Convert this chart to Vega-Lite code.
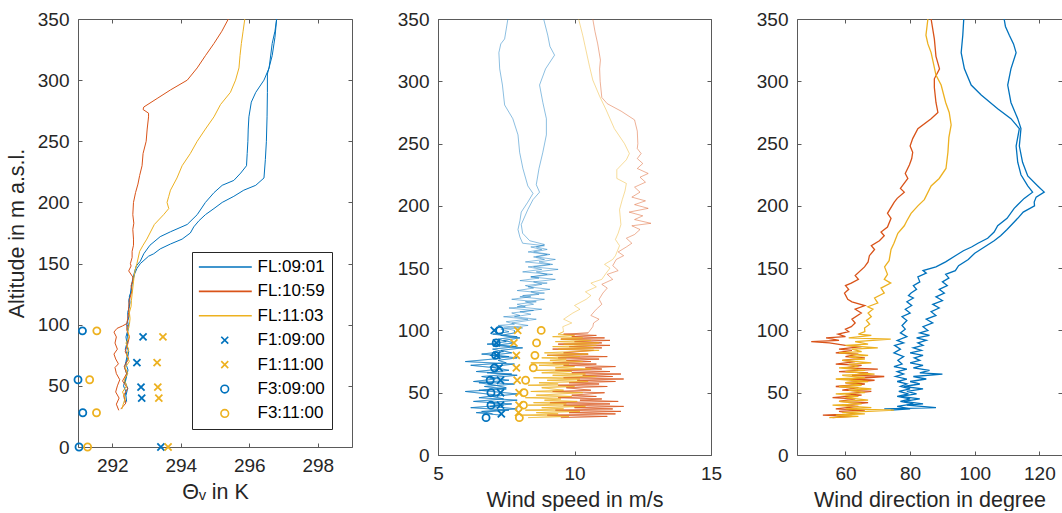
{
"$schema":"https://vega.github.io/schema/vega-lite/v6.json",
"padding":{"left":5,"top":9,"right":0,"bottom":0},
"background":"#ffffff",
"spacing":86,
"bounds":"flush",
"resolve":{"scale":{"color":"independent","shape":"independent","stroke":"independent"},"legend":{"color":"independent","shape":"independent","stroke":"independent"}},
"config":{
 "font":"Liberation Sans",
 "view":{"stroke":"#5a5a5a","strokeWidth":1},
 "axis":{"domain":false,"grid":false,"tickSize":-4,"tickColor":"#5a5a5a","tickWidth":1,"labelFont":"Liberation Sans","labelFontSize":19,"labelColor":"#262626","labelPadding":13,"titleFont":"Liberation Sans","titleFontSize":21.5,"titleFontWeight":"normal","titleColor":"#262626","labelFlush":false,"labelOverlap":false},
 "axisX":{"titlePadding":6},
 "axisY":{"titlePadding":9}
},
"datasets":{
"p1l":[
{"s":"FL:09:01","t":"b1","v":292.38,"a":36},{"s":"FL:09:01","t":"b1","v":292.35,"a":40},{"s":"FL:09:01","t":"b1","v":292.40,"a":45},{"s":"FL:09:01","t":"b1","v":292.33,"a":50},{"s":"FL:09:01","t":"b1","v":292.38,"a":55},{"s":"FL:09:01","t":"b1","v":292.42,"a":60},{"s":"FL:09:01","t":"b1","v":292.36,"a":65},{"s":"FL:09:01","t":"b1","v":292.40,"a":70},{"s":"FL:09:01","t":"b1","v":292.44,"a":75},{"s":"FL:09:01","t":"b1","v":292.38,"a":80},{"s":"FL:09:01","t":"b1","v":292.43,"a":85},{"s":"FL:09:01","t":"b1","v":292.40,"a":90},{"s":"FL:09:01","t":"b1","v":292.45,"a":95},{"s":"FL:09:01","t":"b1","v":292.42,"a":100},{"s":"FL:09:01","t":"b1","v":292.46,"a":105},{"s":"FL:09:01","t":"b1","v":292.45,"a":110},{"s":"FL:09:01","t":"b1","v":292.50,"a":115},{"s":"FL:09:01","t":"b1","v":292.48,"a":120},{"s":"FL:09:01","t":"b1","v":292.53,"a":125},{"s":"FL:09:01","t":"b1","v":292.55,"a":130},{"s":"FL:09:01","t":"b1","v":292.58,"a":135},{"s":"FL:09:01","t":"b1","v":292.62,"a":140},{"s":"FL:09:01","t":"b1","v":292.67,"a":145},{"s":"FL:09:01","t":"b1","v":292.70,"a":148},{"s":"FL:09:01","t":"b1","v":292.82,"a":152},{"s":"FL:09:01","t":"b1","v":292.92,"a":158},{"s":"FL:09:01","t":"b1","v":293.10,"a":165},{"s":"FL:09:01","t":"b1","v":293.40,"a":172},{"s":"FL:09:01","t":"b1","v":293.70,"a":176},{"s":"FL:09:01","t":"b1","v":294.19,"a":182},{"s":"FL:09:01","t":"b1","v":294.48,"a":190},{"s":"FL:09:01","t":"b1","v":294.72,"a":200},{"s":"FL:09:01","t":"b1","v":294.97,"a":208},{"s":"FL:09:01","t":"b1","v":295.21,"a":214},{"s":"FL:09:01","t":"b1","v":295.55,"a":218},{"s":"FL:09:01","t":"b1","v":295.75,"a":224},{"s":"FL:09:01","t":"b1","v":295.92,"a":230},{"s":"FL:09:01","t":"b1","v":295.94,"a":240},{"s":"FL:09:01","t":"b1","v":295.96,"a":250},{"s":"FL:09:01","t":"b1","v":295.97,"a":260},{"s":"FL:09:01","t":"b1","v":295.99,"a":270},{"s":"FL:09:01","t":"b1","v":296.06,"a":282},{"s":"FL:09:01","t":"b1","v":296.19,"a":290},{"s":"FL:09:01","t":"b1","v":296.43,"a":300},{"s":"FL:09:01","t":"b1","v":296.58,"a":310},{"s":"FL:09:01","t":"b1","v":296.67,"a":330},{"s":"FL:09:01","t":"b1","v":296.75,"a":340},{"s":"FL:09:01","t":"b1","v":296.80,"a":350},
{"s":"FL:09:01","t":"b2","v":292.42,"a":37},{"s":"FL:09:01","t":"b2","v":292.40,"a":42},{"s":"FL:09:01","t":"b2","v":292.45,"a":48},{"s":"FL:09:01","t":"b2","v":292.38,"a":53},{"s":"FL:09:01","t":"b2","v":292.42,"a":58},{"s":"FL:09:01","t":"b2","v":292.46,"a":63},{"s":"FL:09:01","t":"b2","v":292.40,"a":68},{"s":"FL:09:01","t":"b2","v":292.45,"a":73},{"s":"FL:09:01","t":"b2","v":292.48,"a":78},{"s":"FL:09:01","t":"b2","v":292.42,"a":83},{"s":"FL:09:01","t":"b2","v":292.46,"a":88},{"s":"FL:09:01","t":"b2","v":292.44,"a":93},{"s":"FL:09:01","t":"b2","v":292.48,"a":98},{"s":"FL:09:01","t":"b2","v":292.45,"a":103},{"s":"FL:09:01","t":"b2","v":292.50,"a":108},{"s":"FL:09:01","t":"b2","v":292.48,"a":113},{"s":"FL:09:01","t":"b2","v":292.52,"a":118},{"s":"FL:09:01","t":"b2","v":292.50,"a":123},{"s":"FL:09:01","t":"b2","v":292.56,"a":128},{"s":"FL:09:01","t":"b2","v":292.58,"a":133},{"s":"FL:09:01","t":"b2","v":292.62,"a":138},{"s":"FL:09:01","t":"b2","v":292.66,"a":142},{"s":"FL:09:01","t":"b2","v":292.72,"a":146},{"s":"FL:09:01","t":"b2","v":292.82,"a":150},{"s":"FL:09:01","t":"b2","v":293.06,"a":156},{"s":"FL:09:01","t":"b2","v":293.21,"a":158},{"s":"FL:09:01","t":"b2","v":293.40,"a":162},{"s":"FL:09:01","t":"b2","v":293.70,"a":166},{"s":"FL:09:01","t":"b2","v":294.04,"a":170},{"s":"FL:09:01","t":"b2","v":294.28,"a":175},{"s":"FL:09:01","t":"b2","v":294.38,"a":180},{"s":"FL:09:01","t":"b2","v":294.53,"a":185},{"s":"FL:09:01","t":"b2","v":294.72,"a":190},{"s":"FL:09:01","t":"b2","v":294.97,"a":195},{"s":"FL:09:01","t":"b2","v":295.21,"a":200},{"s":"FL:09:01","t":"b2","v":295.55,"a":205},{"s":"FL:09:01","t":"b2","v":295.84,"a":210},{"s":"FL:09:01","t":"b2","v":296.19,"a":214},{"s":"FL:09:01","t":"b2","v":296.43,"a":220},{"s":"FL:09:01","t":"b2","v":296.47,"a":235},{"s":"FL:09:01","t":"b2","v":296.50,"a":250},{"s":"FL:09:01","t":"b2","v":296.52,"a":270},{"s":"FL:09:01","t":"b2","v":296.53,"a":290},{"s":"FL:09:01","t":"b2","v":296.53,"a":305},{"s":"FL:09:01","t":"b2","v":296.67,"a":320},{"s":"FL:09:01","t":"b2","v":296.75,"a":335},{"s":"FL:09:01","t":"b2","v":296.80,"a":350},
{"s":"FL:10:59","t":"r1","v":292.19,"a":30},{"s":"FL:10:59","t":"r1","v":292.12,"a":35},{"s":"FL:10:59","t":"r1","v":292.20,"a":40},{"s":"FL:10:59","t":"r1","v":292.10,"a":45},{"s":"FL:10:59","t":"r1","v":292.15,"a":50},{"s":"FL:10:59","t":"r1","v":292.22,"a":55},{"s":"FL:10:59","t":"r1","v":292.12,"a":60},{"s":"FL:10:59","t":"r1","v":292.08,"a":65},{"s":"FL:10:59","t":"r1","v":292.18,"a":68},{"s":"FL:10:59","t":"r1","v":292.10,"a":72},{"s":"FL:10:59","t":"r1","v":292.05,"a":76},{"s":"FL:10:59","t":"r1","v":292.15,"a":80},{"s":"FL:10:59","t":"r1","v":292.08,"a":85},{"s":"FL:10:59","t":"r1","v":292.12,"a":90},{"s":"FL:10:59","t":"r1","v":292.05,"a":94},{"s":"FL:10:59","t":"r1","v":292.14,"a":97},{"s":"FL:10:59","t":"r1","v":292.30,"a":99},{"s":"FL:10:59","t":"r1","v":292.43,"a":101},{"s":"FL:10:59","t":"r1","v":292.45,"a":105},{"s":"FL:10:59","t":"r1","v":292.48,"a":110},{"s":"FL:10:59","t":"r1","v":292.48,"a":115},{"s":"FL:10:59","t":"r1","v":292.50,"a":120},{"s":"FL:10:59","t":"r1","v":292.55,"a":125},{"s":"FL:10:59","t":"r1","v":292.58,"a":128},{"s":"FL:10:59","t":"r1","v":292.55,"a":132},{"s":"FL:10:59","t":"r1","v":292.60,"a":136},{"s":"FL:10:59","t":"r1","v":292.60,"a":139},{"s":"FL:10:59","t":"r1","v":292.48,"a":144},{"s":"FL:10:59","t":"r1","v":292.55,"a":148},{"s":"FL:10:59","t":"r1","v":292.53,"a":150},{"s":"FL:10:59","t":"r1","v":292.58,"a":155},{"s":"FL:10:59","t":"r1","v":292.58,"a":160},{"s":"FL:10:59","t":"r1","v":292.62,"a":165},{"s":"FL:10:59","t":"r1","v":292.62,"a":170},{"s":"FL:10:59","t":"r1","v":292.60,"a":178},{"s":"FL:10:59","t":"r1","v":292.63,"a":183},{"s":"FL:10:59","t":"r1","v":292.60,"a":190},{"s":"FL:10:59","t":"r1","v":292.62,"a":200},{"s":"FL:10:59","t":"r1","v":292.68,"a":208},{"s":"FL:10:59","t":"r1","v":292.75,"a":215},{"s":"FL:10:59","t":"r1","v":292.80,"a":222},{"s":"FL:10:59","t":"r1","v":292.87,"a":230},{"s":"FL:10:59","t":"r1","v":292.90,"a":240},{"s":"FL:10:59","t":"r1","v":292.99,"a":250},{"s":"FL:10:59","t":"r1","v":293.02,"a":260},{"s":"FL:10:59","t":"r1","v":293.06,"a":270},{"s":"FL:10:59","t":"r1","v":293.06,"a":273},{"s":"FL:10:59","t":"r1","v":292.90,"a":276},{"s":"FL:10:59","t":"r1","v":292.92,"a":278},{"s":"FL:10:59","t":"r1","v":293.31,"a":285},{"s":"FL:10:59","t":"r1","v":293.70,"a":292},{"s":"FL:10:59","t":"r1","v":294.19,"a":300},{"s":"FL:10:59","t":"r1","v":294.48,"a":310},{"s":"FL:10:59","t":"r1","v":294.72,"a":320},{"s":"FL:10:59","t":"r1","v":294.97,"a":330},{"s":"FL:10:59","t":"r1","v":295.20,"a":340},{"s":"FL:10:59","t":"r1","v":295.39,"a":350},
{"s":"FL:10:59","t":"r2","v":292.25,"a":31},{"s":"FL:10:59","t":"r2","v":292.40,"a":36},{"s":"FL:10:59","t":"r2","v":292.33,"a":42},{"s":"FL:10:59","t":"r2","v":292.45,"a":48},{"s":"FL:10:59","t":"r2","v":292.30,"a":54},{"s":"FL:10:59","t":"r2","v":292.42,"a":60},{"s":"FL:10:59","t":"r2","v":292.35,"a":66},{"s":"FL:10:59","t":"r2","v":292.48,"a":72},{"s":"FL:10:59","t":"r2","v":292.38,"a":78},{"s":"FL:10:59","t":"r2","v":292.45,"a":84},{"s":"FL:10:59","t":"r2","v":292.50,"a":90},{"s":"FL:10:59","t":"r2","v":292.42,"a":96},{"s":"FL:10:59","t":"r2","v":292.45,"a":100},
{"s":"FL:11:03","t":"y1","v":292.28,"a":31},{"s":"FL:11:03","t":"y1","v":292.32,"a":35},{"s":"FL:11:03","t":"y1","v":292.38,"a":40},{"s":"FL:11:03","t":"y1","v":292.30,"a":45},{"s":"FL:11:03","t":"y1","v":292.42,"a":50},{"s":"FL:11:03","t":"y1","v":292.35,"a":55},{"s":"FL:11:03","t":"y1","v":292.45,"a":60},{"s":"FL:11:03","t":"y1","v":292.38,"a":65},{"s":"FL:11:03","t":"y1","v":292.50,"a":70},{"s":"FL:11:03","t":"y1","v":292.42,"a":75},{"s":"FL:11:03","t":"y1","v":292.48,"a":80},{"s":"FL:11:03","t":"y1","v":292.40,"a":85},{"s":"FL:11:03","t":"y1","v":292.50,"a":90},{"s":"FL:11:03","t":"y1","v":292.45,"a":95},{"s":"FL:11:03","t":"y1","v":292.50,"a":100},{"s":"FL:11:03","t":"y1","v":292.52,"a":105},{"s":"FL:11:03","t":"y1","v":292.50,"a":110},{"s":"FL:11:03","t":"y1","v":292.55,"a":115},{"s":"FL:11:03","t":"y1","v":292.56,"a":120},{"s":"FL:11:03","t":"y1","v":292.58,"a":125},{"s":"FL:11:03","t":"y1","v":292.60,"a":130},{"s":"FL:11:03","t":"y1","v":292.62,"a":135},{"s":"FL:11:03","t":"y1","v":292.64,"a":140},{"s":"FL:11:03","t":"y1","v":292.67,"a":145},{"s":"FL:11:03","t":"y1","v":292.72,"a":150},{"s":"FL:11:03","t":"y1","v":292.80,"a":160},{"s":"FL:11:03","t":"y1","v":292.90,"a":165},{"s":"FL:11:03","t":"y1","v":293.01,"a":170},{"s":"FL:11:03","t":"y1","v":293.23,"a":182},{"s":"FL:11:03","t":"y1","v":293.50,"a":190},{"s":"FL:11:03","t":"y1","v":293.65,"a":195},{"s":"FL:11:03","t":"y1","v":293.60,"a":200},{"s":"FL:11:03","t":"y1","v":293.65,"a":205},{"s":"FL:11:03","t":"y1","v":293.70,"a":210},{"s":"FL:11:03","t":"y1","v":293.89,"a":220},{"s":"FL:11:03","t":"y1","v":294.04,"a":230},{"s":"FL:11:03","t":"y1","v":294.28,"a":240},{"s":"FL:11:03","t":"y1","v":294.48,"a":250},{"s":"FL:11:03","t":"y1","v":294.72,"a":260},{"s":"FL:11:03","t":"y1","v":294.97,"a":270},{"s":"FL:11:03","t":"y1","v":295.16,"a":280},{"s":"FL:11:03","t":"y1","v":295.45,"a":290},{"s":"FL:11:03","t":"y1","v":295.60,"a":300},{"s":"FL:11:03","t":"y1","v":295.70,"a":310},{"s":"FL:11:03","t":"y1","v":295.73,"a":320},{"s":"FL:11:03","t":"y1","v":295.77,"a":330},{"s":"FL:11:03","t":"y1","v":295.82,"a":340},{"s":"FL:11:03","t":"y1","v":295.87,"a":350}
],
"p1m":[
{"s":"F1:09:00","v":292.9,"a":90},{"s":"F1:09:00","v":292.72,"a":69},{"s":"F1:09:00","v":292.84,"a":49},{"s":"F1:09:00","v":292.86,"a":40},{"s":"F1:09:00","v":293.42,"a":0},
{"s":"F1:11:00","v":293.48,"a":90},{"s":"F1:11:00","v":293.31,"a":69},{"s":"F1:11:00","v":293.33,"a":49},{"s":"F1:11:00","v":293.36,"a":40},{"s":"F1:11:00","v":293.63,"a":0},
{"s":"F3:09:00","v":291.13,"a":95},{"s":"F3:09:00","v":291.0,"a":55},{"s":"F3:09:00","v":291.14,"a":28},{"s":"F3:09:00","v":291.03,"a":0},
{"s":"F3:11:00","v":291.55,"a":95},{"s":"F3:11:00","v":291.34,"a":55},{"s":"F3:11:00","v":291.54,"a":28},{"s":"F3:11:00","v":291.28,"a":0}
],
"p2m":[
{"s":"F3:09:00","v":7.26,"a":100},{"s":"F3:09:00","v":7.13,"a":90},{"s":"F3:09:00","v":7.11,"a":80},{"s":"F3:09:00","v":7.07,"a":70},{"s":"F3:09:00","v":6.91,"a":60},{"s":"F3:09:00","v":6.94,"a":50},{"s":"F3:09:00","v":6.94,"a":40},{"s":"F3:09:00","v":6.76,"a":30},
{"s":"F1:09:00","v":7.06,"a":100},{"s":"F1:09:00","v":7.14,"a":90},{"s":"F1:09:00","v":7.15,"a":80},{"s":"F1:09:00","v":7.24,"a":70},{"s":"F1:09:00","v":7.29,"a":60},{"s":"F1:09:00","v":7.29,"a":50},{"s":"F1:09:00","v":7.29,"a":40},{"s":"F1:09:00","v":7.32,"a":33},
{"s":"F1:11:00","v":7.92,"a":100},{"s":"F1:11:00","v":7.78,"a":90},{"s":"F1:11:00","v":7.87,"a":80},{"s":"F1:11:00","v":7.87,"a":70},{"s":"F1:11:00","v":7.9,"a":60},{"s":"F1:11:00","v":7.97,"a":50},{"s":"F1:11:00","v":7.97,"a":40},{"s":"F1:11:00","v":7.95,"a":34},
{"s":"F3:11:00","v":8.78,"a":100},{"s":"F3:11:00","v":8.61,"a":90},{"s":"F3:11:00","v":8.55,"a":80},{"s":"F3:11:00","v":8.49,"a":70},{"s":"F3:11:00","v":8.21,"a":60},{"s":"F3:11:00","v":8.15,"a":50},{"s":"F3:11:00","v":8.13,"a":40},{"s":"F3:11:00","v":7.98,"a":30}
],
"p2l":[
{"t":"b1","v":7.3,"a":32},{"t":"b1","v":6.4,"a":34},{"t":"b1","v":7.6,"a":36},{"t":"b1","v":6.2,"a":38},{"t":"b1","v":7.4,"a":40},{"t":"b1","v":6.8,"a":42},{"t":"b1","v":7.9,"a":44},{"t":"b1","v":6.5,"a":46},{"t":"b1","v":7.2,"a":48},{"t":"b1","v":6.0,"a":51},{"t":"b1","v":7.5,"a":53},{"t":"b1","v":6.7,"a":55},{"t":"b1","v":7.8,"a":57},{"t":"b1","v":6.3,"a":59},{"t":"b1","v":7.1,"a":61},{"t":"b1","v":6.6,"a":63},{"t":"b1","v":7.7,"a":65},{"t":"b1","v":6.4,"a":67},{"t":"b1","v":7.3,"a":69},{"t":"b1","v":6.9,"a":71},{"t":"b1","v":7.8,"a":73},{"t":"b1","v":6.0,"a":75},{"t":"b1","v":7.0,"a":77},{"t":"b1","v":7.6,"a":79},{"t":"b1","v":6.6,"a":81},{"t":"b1","v":7.4,"a":83},{"t":"b1","v":7.0,"a":85},{"t":"b1","v":7.9,"a":87},{"t":"b1","v":6.8,"a":89},{"t":"b1","v":7.5,"a":91},{"t":"b1","v":7.2,"a":93},{"t":"b1","v":7.9,"a":95},{"t":"b1","v":7.0,"a":97},{"t":"b1","v":7.6,"a":99},
{"t":"b1","v":7.3,"a":101},{"t":"b1","v":8.1,"a":102},{"t":"b1","v":7.2,"a":104},{"t":"b1","v":7.8,"a":105},{"t":"b1","v":7.5,"a":107},{"t":"b1","v":8.3,"a":109},{"t":"b1","v":7.4,"a":111},{"t":"b1","v":8.0,"a":112},{"t":"b1","v":7.7,"a":114},{"t":"b1","v":8.5,"a":116},{"t":"b1","v":7.6,"a":118},{"t":"b1","v":8.2,"a":119},{"t":"b1","v":7.9,"a":121},{"t":"b1","v":8.6,"a":123},{"t":"b1","v":7.7,"a":125},{"t":"b1","v":8.4,"a":127},{"t":"b1","v":8.1,"a":128},{"t":"b1","v":8.9,"a":130},{"t":"b1","v":7.9,"a":132},{"t":"b1","v":8.5,"a":134},{"t":"b1","v":8.2,"a":136},{"t":"b1","v":9.0,"a":138},{"t":"b1","v":8.0,"a":140},{"t":"b1","v":8.7,"a":142},{"t":"b1","v":8.4,"a":143},{"t":"b1","v":9.2,"a":145},{"t":"b1","v":8.1,"a":147},{"t":"b1","v":8.8,"a":149},{"t":"b1","v":8.3,"a":151},{"t":"b1","v":9.1,"a":153},{"t":"b1","v":8.2,"a":155},{"t":"b1","v":8.9,"a":157},{"t":"b1","v":8.5,"a":159},{"t":"b1","v":9.0,"a":161},{"t":"b1","v":8.3,"a":163},{"t":"b1","v":8.8,"a":165},{"t":"b1","v":8.4,"a":167},{"t":"b1","v":8.9,"a":168},{"t":"b1","v":8.1,"a":170},
{"t":"b1","v":8.0,"a":175},{"t":"b1","v":7.93,"a":181},{"t":"b1","v":8.0,"a":188},{"t":"b1","v":8.05,"a":195},{"t":"b1","v":8.29,"a":203},{"t":"b1","v":8.48,"a":210},{"t":"b1","v":8.29,"a":216},{"t":"b1","v":8.11,"a":230},{"t":"b1","v":7.99,"a":243},{"t":"b1","v":7.93,"a":257},{"t":"b1","v":7.74,"a":270},{"t":"b1","v":7.44,"a":281},{"t":"b1","v":7.36,"a":297},{"t":"b1","v":7.26,"a":310},{"t":"b1","v":7.23,"a":323},{"t":"b1","v":7.3,"a":330},{"t":"b1","v":7.44,"a":334},{"t":"b1","v":7.5,"a":342},{"t":"b1","v":7.56,"a":350},
{"t":"b2","v":7.0,"a":33},{"t":"b2","v":6.6,"a":35},{"t":"b2","v":7.9,"a":37},{"t":"b2","v":6.9,"a":39},{"t":"b2","v":7.7,"a":41},{"t":"b2","v":6.3,"a":43},{"t":"b2","v":7.4,"a":45},{"t":"b2","v":7.0,"a":47},{"t":"b2","v":7.9,"a":49},{"t":"b2","v":6.5,"a":52},{"t":"b2","v":7.5,"a":54},{"t":"b2","v":7.1,"a":56},{"t":"b2","v":6.5,"a":58},{"t":"b2","v":7.6,"a":60},{"t":"b2","v":6.9,"a":62},{"t":"b2","v":7.9,"a":64},{"t":"b2","v":6.8,"a":66},{"t":"b2","v":7.6,"a":68},{"t":"b2","v":7.1,"a":70},{"t":"b2","v":6.2,"a":72},{"t":"b2","v":7.5,"a":74},{"t":"b2","v":7.2,"a":76},{"t":"b2","v":7.9,"a":78},{"t":"b2","v":6.9,"a":80},{"t":"b2","v":7.7,"a":82},{"t":"b2","v":7.3,"a":84},{"t":"b2","v":8.1,"a":86},{"t":"b2","v":7.1,"a":88},{"t":"b2","v":7.8,"a":90},{"t":"b2","v":7.4,"a":92},{"t":"b2","v":8.0,"a":94},{"t":"b2","v":7.3,"a":96},{"t":"b2","v":7.8,"a":98},
{"t":"b2","v":7.8,"a":100},{"t":"b2","v":7.4,"a":102},{"t":"b2","v":8.3,"a":104},{"t":"b2","v":7.7,"a":106},{"t":"b2","v":8.0,"a":107},{"t":"b2","v":8.6,"a":109},{"t":"b2","v":7.8,"a":111},{"t":"b2","v":8.4,"a":113},{"t":"b2","v":8.0,"a":115},{"t":"b2","v":8.8,"a":117},{"t":"b2","v":7.9,"a":119},{"t":"b2","v":8.5,"a":121},{"t":"b2","v":8.2,"a":123},{"t":"b2","v":8.9,"a":125},{"t":"b2","v":8.0,"a":127},{"t":"b2","v":8.7,"a":129},{"t":"b2","v":8.4,"a":131},{"t":"b2","v":9.1,"a":133},{"t":"b2","v":8.3,"a":135},{"t":"b2","v":8.8,"a":137},{"t":"b2","v":8.5,"a":139},{"t":"b2","v":9.3,"a":141},{"t":"b2","v":8.4,"a":143},{"t":"b2","v":9.0,"a":145},{"t":"b2","v":8.6,"a":147},{"t":"b2","v":9.4,"a":149},{"t":"b2","v":8.5,"a":151},{"t":"b2","v":9.2,"a":153},{"t":"b2","v":8.7,"a":155},{"t":"b2","v":9.3,"a":157},{"t":"b2","v":8.6,"a":159},{"t":"b2","v":9.1,"a":161},{"t":"b2","v":8.5,"a":163},{"t":"b2","v":9.0,"a":165},{"t":"b2","v":8.6,"a":167},{"t":"b2","v":8.9,"a":169},
{"t":"b2","v":8.36,"a":172},{"t":"b2","v":8.1,"a":178},{"t":"b2","v":8.05,"a":185},{"t":"b2","v":8.29,"a":197},{"t":"b2","v":8.48,"a":205},{"t":"b2","v":8.72,"a":211},{"t":"b2","v":8.6,"a":217},{"t":"b2","v":8.7,"a":230},{"t":"b2","v":8.84,"a":243},{"t":"b2","v":8.97,"a":257},{"t":"b2","v":8.97,"a":270},{"t":"b2","v":8.84,"a":283},{"t":"b2","v":8.72,"a":297},{"t":"b2","v":8.94,"a":310},{"t":"b2","v":9.27,"a":321},{"t":"b2","v":9.1,"a":328},{"t":"b2","v":9.02,"a":337},{"t":"b2","v":8.87,"a":350},
{"t":"r","v":9.5,"a":30},{"t":"r","v":11.2,"a":31},{"t":"r","v":9.0,"a":32},{"t":"r","v":11.5,"a":33},{"t":"r","v":9.8,"a":34},{"t":"r","v":11.7,"a":35},{"t":"r","v":9.3,"a":36},{"t":"r","v":11.4,"a":37},{"t":"r","v":10.0,"a":38},{"t":"r","v":11.8,"a":39},{"t":"r","v":9.6,"a":40},{"t":"r","v":11.3,"a":41},{"t":"r","v":9.1,"a":42},{"t":"r","v":11.6,"a":43},{"t":"r","v":10.2,"a":44},{"t":"r","v":11.0,"a":45},{"t":"r","v":9.4,"a":46},{"t":"r","v":10.8,"a":47},{"t":"r","v":9.9,"a":48},{"t":"r","v":11.1,"a":50},{"t":"r","v":9.2,"a":51},{"t":"r","v":10.6,"a":52},{"t":"r","v":9.7,"a":54},{"t":"r","v":11.2,"a":55},{"t":"r","v":9.4,"a":56},{"t":"r","v":10.9,"a":57},{"t":"r","v":9.8,"a":58},{"t":"r","v":11.5,"a":59},{"t":"r","v":10.1,"a":60},{"t":"r","v":11.8,"a":61},{"t":"r","v":9.6,"a":62},{"t":"r","v":11.4,"a":63},{"t":"r","v":10.3,"a":64},{"t":"r","v":11.7,"a":65},{"t":"r","v":9.9,"a":66},{"t":"r","v":11.3,"a":67},{"t":"r","v":9.3,"a":68},{"t":"r","v":11.0,"a":69},{"t":"r","v":10.4,"a":70},{"t":"r","v":11.5,"a":71},{"t":"r","v":9.6,"a":72},{"t":"r","v":10.8,"a":73},{"t":"r","v":9.2,"a":74},{"t":"r","v":10.6,"a":75},{"t":"r","v":9.7,"a":76},{"t":"r","v":10.9,"a":77},{"t":"r","v":9.4,"a":78},{"t":"r","v":11.2,"a":79},{"t":"r","v":9.0,"a":80},{"t":"r","v":10.5,"a":81},{"t":"r","v":9.6,"a":82},{"t":"r","v":10.7,"a":84},{"t":"r","v":9.2,"a":85},{"t":"r","v":11.0,"a":86},{"t":"r","v":9.8,"a":87},{"t":"r","v":11.3,"a":88},{"t":"r","v":9.4,"a":89},{"t":"r","v":11.0,"a":90},{"t":"r","v":10.0,"a":91},{"t":"r","v":11.3,"a":92},{"t":"r","v":9.5,"a":93},{"t":"r","v":11.1,"a":94},{"t":"r","v":9.9,"a":95},{"t":"r","v":10.8,"a":96},{"t":"r","v":9.6,"a":97},{"t":"r","v":10.5,"a":98},{"t":"r","v":10.67,"a":103},{"t":"r","v":10.7,"a":106},{"t":"r","v":10.9,"a":109},{"t":"r","v":10.6,"a":112},{"t":"r","v":10.8,"a":117},{"t":"r","v":11.0,"a":121},{"t":"r","v":10.9,"a":125},{"t":"r","v":11.04,"a":130},{"t":"r","v":11.2,"a":134},{"t":"r","v":11.0,"a":137},{"t":"r","v":11.4,"a":141},{"t":"r","v":11.2,"a":145},{"t":"r","v":11.6,"a":148},{"t":"r","v":11.4,"a":152},{"t":"r","v":11.53,"a":157},{"t":"r","v":11.8,"a":160},{"t":"r","v":11.6,"a":163},{"t":"r","v":11.9,"a":167},{"t":"r","v":12.1,"a":170},{"t":"r","v":11.9,"a":174},{"t":"r","v":12.2,"a":177},{"t":"r","v":12.4,"a":181},{"t":"r","v":12.1,"a":184},{"t":"r","v":12.8,"a":186},{"t":"r","v":12.2,"a":189},{"t":"r","v":12.5,"a":192},{"t":"r","v":12.0,"a":195},{"t":"r","v":12.7,"a":198},{"t":"r","v":12.2,"a":201},{"t":"r","v":12.6,"a":204},{"t":"r","v":12.1,"a":207},{"t":"r","v":12.4,"a":211},{"t":"r","v":12.2,"a":215},{"t":"r","v":12.6,"a":219},{"t":"r","v":12.4,"a":223},{"t":"r","v":12.7,"a":226},{"t":"r","v":12.3,"a":230},{"t":"r","v":12.5,"a":234},{"t":"r","v":12.3,"a":238},{"t":"r","v":12.44,"a":242},{"t":"r","v":12.3,"a":246},{"t":"r","v":12.32,"a":250},{"t":"r","v":12.3,"a":260},{"t":"r","v":12.2,"a":269},{"t":"r","v":11.71,"a":276},{"t":"r","v":11.2,"a":282},{"t":"r","v":11.0,"a":287},{"t":"r","v":10.94,"a":300},{"t":"r","v":10.92,"a":310},{"t":"r","v":10.95,"a":317},{"t":"r","v":10.85,"a":330},{"t":"r","v":10.75,"a":340},{"t":"r","v":10.67,"a":350},
{"t":"y","v":8.3,"a":30},{"t":"y","v":9.8,"a":31},{"t":"y","v":8.1,"a":32},{"t":"y","v":9.4,"a":33},{"t":"y","v":8.6,"a":34},{"t":"y","v":10.2,"a":35},{"t":"y","v":8.2,"a":36},{"t":"y","v":9.6,"a":37},{"t":"y","v":8.8,"a":38},{"t":"y","v":10.4,"a":39},{"t":"y","v":8.3,"a":40},{"t":"y","v":9.7,"a":41},{"t":"y","v":8.5,"a":42},{"t":"y","v":10.1,"a":43},{"t":"y","v":8.9,"a":44},{"t":"y","v":9.5,"a":45},{"t":"y","v":8.2,"a":46},{"t":"y","v":9.9,"a":47},{"t":"y","v":8.6,"a":48},{"t":"y","v":10.3,"a":50},{"t":"y","v":8.4,"a":51},{"t":"y","v":9.6,"a":52},{"t":"y","v":8.8,"a":54},{"t":"y","v":10.0,"a":55},{"t":"y","v":8.3,"a":56},{"t":"y","v":9.4,"a":57},{"t":"y","v":8.7,"a":58},{"t":"y","v":10.5,"a":59},{"t":"y","v":9.0,"a":60},{"t":"y","v":10.2,"a":61},{"t":"y","v":8.5,"a":62},{"t":"y","v":10.8,"a":63},{"t":"y","v":9.2,"a":64},{"t":"y","v":10.4,"a":65},{"t":"y","v":8.8,"a":66},{"t":"y","v":9.9,"a":67},{"t":"y","v":8.6,"a":68},{"t":"y","v":10.6,"a":69},{"t":"y","v":9.3,"a":70},{"t":"y","v":10.0,"a":71},{"t":"y","v":8.7,"a":72},{"t":"y","v":9.8,"a":73},{"t":"y","v":8.4,"a":74},{"t":"y","v":10.3,"a":75},{"t":"y","v":9.1,"a":76},{"t":"y","v":9.7,"a":77},{"t":"y","v":8.8,"a":78},{"t":"y","v":10.2,"a":79},{"t":"y","v":9.0,"a":80},{"t":"y","v":10.5,"a":81},{"t":"y","v":8.9,"a":82},{"t":"y","v":10.9,"a":84},{"t":"y","v":9.4,"a":85},{"t":"y","v":10.7,"a":86},{"t":"y","v":9.2,"a":87},{"t":"y","v":10.8,"a":88},{"t":"y","v":9.6,"a":89},{"t":"y","v":10.9,"a":90},{"t":"y","v":9.3,"a":91},{"t":"y","v":10.6,"a":92},{"t":"y","v":9.5,"a":93},{"t":"y","v":10.3,"a":94},{"t":"y","v":9.2,"a":95},{"t":"y","v":10.0,"a":96},{"t":"y","v":9.4,"a":97},{"t":"y","v":9.6,"a":99},{"t":"y","v":9.57,"a":103},{"t":"y","v":9.9,"a":106},{"t":"y","v":9.6,"a":109},{"t":"y","v":9.94,"a":114},{"t":"y","v":10.2,"a":117},{"t":"y","v":10.0,"a":120},{"t":"y","v":10.43,"a":125},{"t":"y","v":10.6,"a":128},{"t":"y","v":10.4,"a":131},{"t":"y","v":10.8,"a":135},{"t":"y","v":10.6,"a":138},{"t":"y","v":11.0,"a":141},{"t":"y","v":11.16,"a":146},{"t":"y","v":11.3,"a":150},{"t":"y","v":11.1,"a":153},{"t":"y","v":11.4,"a":157},{"t":"y","v":11.5,"a":160},{"t":"y","v":11.65,"a":168},{"t":"y","v":11.5,"a":173},{"t":"y","v":11.6,"a":178},{"t":"y","v":11.7,"a":185},{"t":"y","v":11.65,"a":197},{"t":"y","v":11.75,"a":205},{"t":"y","v":11.85,"a":212},{"t":"y","v":11.9,"a":218},{"t":"y","v":11.55,"a":222},{"t":"y","v":11.55,"a":229},{"t":"y","v":11.9,"a":237},{"t":"y","v":12.01,"a":242},{"t":"y","v":11.83,"a":250},{"t":"y","v":11.46,"a":262},{"t":"y","v":11.16,"a":277},{"t":"y","v":10.92,"a":288},{"t":"y","v":10.67,"a":301},{"t":"y","v":10.55,"a":312},{"t":"y","v":10.42,"a":325},{"t":"y","v":10.3,"a":337},{"t":"y","v":10.15,"a":350}
],
"p3l":[
{"t":"b1","v":72,"a":37},{"t":"b1","v":88,"a":38},{"t":"b1","v":79,"a":40},{"t":"b1","v":84,"a":41},{"t":"b1","v":78,"a":43},{"t":"b1","v":83,"a":45},{"t":"b1","v":77,"a":47},{"t":"b1","v":82,"a":49},{"t":"b1","v":79,"a":51},{"t":"b1","v":84,"a":53},{"t":"b1","v":78,"a":55},{"t":"b1","v":83,"a":57},{"t":"b1","v":80,"a":59},{"t":"b1","v":85,"a":61},{"t":"b1","v":81,"a":63},{"t":"b1","v":90,"a":65},{"t":"b1","v":83,"a":66},{"t":"b1","v":86,"a":68},{"t":"b1","v":81,"a":70},{"t":"b1","v":84,"a":72},{"t":"b1","v":80,"a":74},{"t":"b1","v":83,"a":76},{"t":"b1","v":81.3,"a":78},{"t":"b1","v":84,"a":80},{"t":"b1","v":80,"a":82},{"t":"b1","v":83.5,"a":84},{"t":"b1","v":81,"a":86},{"t":"b1","v":84,"a":88},{"t":"b1","v":82.4,"a":90},{"t":"b1","v":85,"a":92},{"t":"b1","v":82,"a":94},{"t":"b1","v":86,"a":96},{"t":"b1","v":83,"a":98},{"t":"b1","v":85.5,"a":100},{"t":"b1","v":84,"a":103},{"t":"b1","v":87,"a":106},{"t":"b1","v":85,"a":109},{"t":"b1","v":88,"a":112},{"t":"b1","v":86.5,"a":115},{"t":"b1","v":89,"a":118},{"t":"b1","v":87,"a":121},{"t":"b1","v":90,"a":124},{"t":"b1","v":88,"a":127},{"t":"b1","v":90.6,"a":130},{"t":"b1","v":89,"a":133},{"t":"b1","v":91.5,"a":136},{"t":"b1","v":90,"a":139},{"t":"b1","v":92,"a":142},{"t":"b1","v":91,"a":145},{"t":"b1","v":94,"a":148},{"t":"b1","v":95,"a":152},{"t":"b1","v":98,"a":157},{"t":"b1","v":100,"a":162},{"t":"b1","v":103,"a":167},{"t":"b1","v":106,"a":172},{"t":"b1","v":108,"a":176},{"t":"b1","v":110,"a":181},{"t":"b1","v":113.3,"a":190},{"t":"b1","v":115,"a":195},{"t":"b1","v":118.5,"a":200},{"t":"b1","v":118.4,"a":203},{"t":"b1","v":119,"a":207},{"t":"b1","v":121.5,"a":211},{"t":"b1","v":119.5,"a":216},{"t":"b1","v":116.4,"a":224},{"t":"b1","v":114.8,"a":235},{"t":"b1","v":113.8,"a":248},{"t":"b1","v":114.3,"a":262},{"t":"b1","v":113.3,"a":270},{"t":"b1","v":111.2,"a":283},{"t":"b1","v":110.2,"a":297},{"t":"b1","v":111.2,"a":310},{"t":"b1","v":112.8,"a":323},{"t":"b1","v":112,"a":330},{"t":"b1","v":110.7,"a":337},{"t":"b1","v":109.5,"a":344},{"t":"b1","v":109.1,"a":350},
{"t":"b2","v":74,"a":36},{"t":"b2","v":80,"a":37},{"t":"b2","v":76,"a":39},{"t":"b2","v":81,"a":41},{"t":"b2","v":77,"a":43},{"t":"b2","v":80,"a":45},{"t":"b2","v":76,"a":47},{"t":"b2","v":79.5,"a":49},{"t":"b2","v":76.5,"a":51},{"t":"b2","v":80,"a":53},{"t":"b2","v":77,"a":55},{"t":"b2","v":79,"a":57},{"t":"b2","v":76,"a":59},{"t":"b2","v":79,"a":61},{"t":"b2","v":75.5,"a":63},{"t":"b2","v":78,"a":65},{"t":"b2","v":76,"a":67},{"t":"b2","v":79,"a":69},{"t":"b2","v":75,"a":71},{"t":"b2","v":77.5,"a":73},{"t":"b2","v":76.2,"a":76},{"t":"b2","v":78,"a":79},{"t":"b2","v":75,"a":82},{"t":"b2","v":77,"a":85},{"t":"b2","v":75.2,"a":88},{"t":"b2","v":78,"a":90},{"t":"b2","v":76,"a":92},{"t":"b2","v":79,"a":95},{"t":"b2","v":77,"a":98},{"t":"b2","v":78.5,"a":101},{"t":"b2","v":77.5,"a":104},{"t":"b2","v":79,"a":108},{"t":"b2","v":77.5,"a":111},{"t":"b2","v":80,"a":114},{"t":"b2","v":78.5,"a":117},{"t":"b2","v":80.5,"a":120},{"t":"b2","v":79,"a":123},{"t":"b2","v":81,"a":126},{"t":"b2","v":79.5,"a":128},{"t":"b2","v":80.3,"a":130},{"t":"b2","v":82,"a":133},{"t":"b2","v":81,"a":136},{"t":"b2","v":83,"a":139},{"t":"b2","v":82.4,"a":143},{"t":"b2","v":85,"a":146},{"t":"b2","v":84,"a":148},{"t":"b2","v":88,"a":151},{"t":"b2","v":91,"a":155},{"t":"b2","v":94,"a":160},{"t":"b2","v":96.5,"a":164},{"t":"b2","v":99,"a":167},{"t":"b2","v":101,"a":170},{"t":"b2","v":104,"a":174},{"t":"b2","v":106,"a":179},{"t":"b2","v":107.1,"a":184},{"t":"b2","v":110,"a":190},{"t":"b2","v":112.2,"a":198},{"t":"b2","v":115.3,"a":206},{"t":"b2","v":117.9,"a":211},{"t":"b2","v":116.4,"a":216},{"t":"b2","v":114.3,"a":225},{"t":"b2","v":113.3,"a":235},{"t":"b2","v":112.8,"a":248},{"t":"b2","v":113.8,"a":262},{"t":"b2","v":111.2,"a":270},{"t":"b2","v":107.1,"a":278},{"t":"b2","v":102,"a":289},{"t":"b2","v":98.9,"a":297},{"t":"b2","v":96.8,"a":310},{"t":"b2","v":95.8,"a":323},{"t":"b2","v":96.3,"a":337},{"t":"b2","v":96.6,"a":350},
{"t":"r","v":56,"a":30},{"t":"r","v":62,"a":31},{"t":"r","v":53,"a":32},{"t":"r","v":63,"a":33},{"t":"r","v":58,"a":35},{"t":"r","v":66,"a":36},{"t":"r","v":57,"a":37},{"t":"r","v":64,"a":39},{"t":"r","v":59,"a":40},{"t":"r","v":67,"a":42},{"t":"r","v":58,"a":43},{"t":"r","v":63,"a":45},{"t":"r","v":56,"a":46},{"t":"r","v":65,"a":48},{"t":"r","v":60,"a":49},{"t":"r","v":68,"a":51},{"t":"r","v":59,"a":52},{"t":"r","v":64,"a":54},{"t":"r","v":57,"a":55},{"t":"r","v":66,"a":57},{"t":"r","v":60,"a":58},{"t":"r","v":69,"a":60},{"t":"r","v":61,"a":61},{"t":"r","v":72,"a":63},{"t":"r","v":62,"a":64},{"t":"r","v":67,"a":66},{"t":"r","v":58,"a":67},{"t":"r","v":70,"a":69},{"t":"r","v":60,"a":70},{"t":"r","v":65,"a":72},{"t":"r","v":57,"a":73},{"t":"r","v":63,"a":75},{"t":"r","v":59,"a":76},{"t":"r","v":66,"a":78},{"t":"r","v":60,"a":79},{"t":"r","v":64,"a":81},{"t":"r","v":57,"a":82},{"t":"r","v":62,"a":84},{"t":"r","v":58,"a":85},{"t":"r","v":65,"a":87},{"t":"r","v":60,"a":88},{"t":"r","v":55,"a":90},{"t":"r","v":49.4,"a":91},{"t":"r","v":58,"a":92},{"t":"r","v":54,"a":94},{"t":"r","v":60,"a":95},{"t":"r","v":57.7,"a":97},{"t":"r","v":61,"a":99},{"t":"r","v":60,"a":101},{"t":"r","v":61.8,"a":103},{"t":"r","v":63,"a":106},{"t":"r","v":62,"a":109},{"t":"r","v":64.9,"a":114},{"t":"r","v":63,"a":117},{"t":"r","v":66,"a":120},{"t":"r","v":62,"a":123},{"t":"r","v":60.7,"a":125},{"t":"r","v":59.7,"a":130},{"t":"r","v":61,"a":133},{"t":"r","v":60,"a":136},{"t":"r","v":61.8,"a":138},{"t":"r","v":64,"a":141},{"t":"r","v":63,"a":144},{"t":"r","v":65.9,"a":151},{"t":"r","v":67,"a":155},{"t":"r","v":67.4,"a":160},{"t":"r","v":69,"a":165},{"t":"r","v":68,"a":168},{"t":"r","v":70.5,"a":172},{"t":"r","v":72,"a":176},{"t":"r","v":71,"a":179},{"t":"r","v":73,"a":183},{"t":"r","v":74.1,"a":190},{"t":"r","v":73,"a":194},{"t":"r","v":75.1,"a":203},{"t":"r","v":76,"a":206},{"t":"r","v":78.2,"a":211},{"t":"r","v":77,"a":214},{"t":"r","v":79.3,"a":222},{"t":"r","v":78.5,"a":226},{"t":"r","v":79.8,"a":233},{"t":"r","v":80.5,"a":238},{"t":"r","v":80.8,"a":243},{"t":"r","v":80,"a":248},{"t":"r","v":80.8,"a":254},{"t":"r","v":82.4,"a":262},{"t":"r","v":86.5,"a":270},{"t":"r","v":88.6,"a":275},{"t":"r","v":88,"a":283},{"t":"r","v":87.5,"a":295},{"t":"r","v":87.5,"a":302},{"t":"r","v":89.1,"a":310},{"t":"r","v":88,"a":320},{"t":"r","v":87.5,"a":334},{"t":"r","v":86.5,"a":350},
{"t":"y","v":55,"a":30},{"t":"y","v":64,"a":31},{"t":"y","v":57,"a":32},{"t":"y","v":66,"a":33},{"t":"y","v":59,"a":34},{"t":"y","v":75,"a":36},{"t":"y","v":60,"a":37},{"t":"y","v":68,"a":38},{"t":"y","v":56,"a":40},{"t":"y","v":65,"a":41},{"t":"y","v":58,"a":43},{"t":"y","v":67,"a":44},{"t":"y","v":60,"a":46},{"t":"y","v":64,"a":47},{"t":"y","v":57,"a":49},{"t":"y","v":66,"a":50},{"t":"y","v":61,"a":52},{"t":"y","v":68,"a":53},{"t":"y","v":58,"a":55},{"t":"y","v":65,"a":56},{"t":"y","v":60,"a":58},{"t":"y","v":67,"a":59},{"t":"y","v":57,"a":61},{"t":"y","v":66,"a":62},{"t":"y","v":59,"a":64},{"t":"y","v":69,"a":65},{"t":"y","v":60,"a":67},{"t":"y","v":66,"a":68},{"t":"y","v":58,"a":70},{"t":"y","v":64,"a":71},{"t":"y","v":61,"a":73},{"t":"y","v":68,"a":74},{"t":"y","v":59,"a":76},{"t":"y","v":66,"a":77},{"t":"y","v":61,"a":79},{"t":"y","v":67,"a":80},{"t":"y","v":58,"a":82},{"t":"y","v":65,"a":83},{"t":"y","v":62,"a":85},{"t":"y","v":70,"a":86},{"t":"y","v":60,"a":88},{"t":"y","v":67,"a":89},{"t":"y","v":63,"a":91},{"t":"y","v":74,"a":93},{"t":"y","v":61,"a":94},{"t":"y","v":68,"a":96},{"t":"y","v":64,"a":97},{"t":"y","v":66,"a":99},{"t":"y","v":65.9,"a":102},{"t":"y","v":67.5,"a":105},{"t":"y","v":66.5,"a":108},{"t":"y","v":68,"a":111},{"t":"y","v":67,"a":114},{"t":"y","v":68.5,"a":117},{"t":"y","v":66.9,"a":119},{"t":"y","v":70,"a":122},{"t":"y","v":69,"a":126},{"t":"y","v":72,"a":130},{"t":"y","v":71,"a":134},{"t":"y","v":74,"a":138},{"t":"y","v":72,"a":141},{"t":"y","v":73,"a":145},{"t":"y","v":72.1,"a":151},{"t":"y","v":73.5,"a":156},{"t":"y","v":74.1,"a":165},{"t":"y","v":75,"a":170},{"t":"y","v":76.2,"a":178},{"t":"y","v":78.2,"a":184},{"t":"y","v":79,"a":188},{"t":"y","v":80.3,"a":194},{"t":"y","v":82.4,"a":200},{"t":"y","v":84.4,"a":205},{"t":"y","v":86.5,"a":216},{"t":"y","v":89,"a":222},{"t":"y","v":91.1,"a":230},{"t":"y","v":91.7,"a":243},{"t":"y","v":92,"a":255},{"t":"y","v":92.7,"a":265},{"t":"y","v":92.1,"a":275},{"t":"y","v":91,"a":283},{"t":"y","v":89.6,"a":297},{"t":"y","v":88,"a":305},{"t":"y","v":86.5,"a":323},{"t":"y","v":85.5,"a":330},{"t":"y","v":84.9,"a":337},{"t":"y","v":85.5,"a":350}
]
},
"hconcat":[
{
 "width":274,"height":428,
 "layer":[
  {"data":{"name":"p1l"},
   "mark":{"type":"line","strokeWidth":1},
   "encoding":{
    "x":{"field":"v","type":"quantitative","scale":{"domain":[291,299],"nice":false,"zero":false},"axis":{"orient":"bottom","values":[292,294,296,298],"title":"Θᵥ in K"}},
    "y":{"field":"a","type":"quantitative","scale":{"domain":[0,350],"nice":false},"axis":{"orient":"left","values":[0,50,100,150,200,250,300,350],"title":"Altitude in m a.s.l."}},
    "color":{"field":"s","type":"nominal","scale":{"domain":["FL:09:01","FL:10:59","FL:11:03"],"range":["#0072BD","#D95319","#EDB120"]},"legend":null},
    "detail":{"field":"t"},
    "order":{"field":"a","type":"quantitative"}
   }},
  {"data":{"name":"p1m"},
   "mark":{"type":"point","filled":false,"strokeWidth":1.8,"size":50,"opacity":1},
   "encoding":{
    "x":{"field":"v","type":"quantitative","scale":{"domain":[291,299],"nice":false,"zero":false},"axis":{"orient":"top","values":[292,294,296,298],"labels":false,"title":null}},
    "y":{"field":"a","type":"quantitative","scale":{"domain":[0,350],"nice":false},"axis":{"orient":"right","values":[0,50,100,150,200,250,300,350],"labels":false,"title":null}},
    "color":{"field":"s","type":"nominal","scale":{"domain":["F1:09:00","F1:11:00","F3:09:00","F3:11:00"],"range":["#0072BD","#EDB120","#0072BD","#EDB120"]},"legend":null},
    "shape":{"field":"s","type":"nominal","scale":{"domain":["F1:09:00","F1:11:00","F3:09:00","F3:11:00"],"range":["M-1,-1L1,1M-1,1L1,-1","M-1,-1L1,1M-1,1L1,-1","circle","circle"]},"legend":null}
   }},
  {"data":{"name":"p1m"},
   "transform":[{"filter":"datum.a > 1000"}],
   "mark":{"type":"point","filled":false,"strokeWidth":1.6,"size":289,"opacity":1},
   "encoding":{
    "x":{"field":"v","type":"quantitative","scale":{"domain":[291,299],"nice":false,"zero":false},"axis":null},
    "y":{"field":"a","type":"quantitative","scale":{"domain":[0,350],"nice":false},"axis":null},
    "color":{"field":"s","type":"nominal","scale":{"domain":["FL:09:01","FL:10:59","FL:11:03","F1:09:00","F1:11:00","F3:09:00","F3:11:00"],"range":["#0072BD","#D95319","#EDB120","#0072BD","#EDB120","#0072BD","#EDB120"]},"legend":{"title":null,"orient":"none","legendX":114,"legendY":233,"padding":6.5,"rowPadding":6.4,"clipHeight":17,"labelFontSize":17,"labelFont":"Liberation Sans","labelColor":"#000000","strokeColor":"#262626","fillColor":"#ffffff","symbolStrokeWidth":1.6,"symbolSize":289,"symbolOpacity":1,"labelOffset":40,"labelLimit":200}},
    "shape":{"field":"s","type":"nominal","scale":{"domain":["FL:09:01","FL:10:59","FL:11:03","F1:09:00","F1:11:00","F3:09:00","F3:11:00"],"range":["M-1.09,0L5.15,0","M-1.09,0L5.15,0","M-1.09,0L5.15,0","M1.56,-0.41L2.38,0.41M1.56,0.41L2.38,-0.41","M1.56,-0.41L2.38,0.41M1.56,0.41L2.38,-0.41","M2.42,0A0.45,0.45 0 1,1 1.52,0A0.45,0.45 0 1,1 2.42,0Z","M2.42,0A0.45,0.45 0 1,1 1.52,0A0.45,0.45 0 1,1 2.42,0Z"]},"legend":{"title":null,"orient":"none","legendX":114,"legendY":233,"padding":6.5,"rowPadding":6.4,"clipHeight":17,"labelFontSize":17,"labelFont":"Liberation Sans","labelColor":"#000000","strokeColor":"#262626","fillColor":"#ffffff","symbolStrokeWidth":1.6,"symbolSize":289,"symbolOpacity":1,"labelOffset":40,"labelLimit":200}}
   }}
 ],
 "resolve":{"axis":{"x":"independent","y":"independent"},"scale":{"color":"independent","shape":"independent"}}
},
{
 "width":273,"height":436,
 "layer":[
  {"data":{"name":"p2l"},
   "mark":{"type":"line","strokeWidth":1,"opacity":0.45},
   "encoding":{
    "x":{"field":"v","type":"quantitative","scale":{"domain":[5,15],"nice":false,"zero":false},"axis":{"orient":"bottom","values":[5,10,15],"title":"Wind speed in m/s"}},
    "y":{"field":"a","type":"quantitative","scale":{"domain":[0,350],"nice":false},"axis":{"orient":"left","values":[0,50,100,150,200,250,300,350],"title":null}},
    "color":{"field":"t","type":"nominal","scale":{"domain":["b1","b2","r","y"],"range":["#0072BD","#0072BD","#D95319","#EDB120"]},"legend":null},
    "order":{"field":"a","type":"quantitative"}
   }},
  {"data":{"name":"p2l"},
   "transform":[{"filter":"datum.a <= 100"}],
   "mark":{"type":"line","strokeWidth":1,"opacity":0.55},
   "encoding":{
    "x":{"field":"v","type":"quantitative","scale":{"domain":[5,15],"nice":false,"zero":false},"axis":null},
    "y":{"field":"a","type":"quantitative","scale":{"domain":[0,350],"nice":false},"axis":null},
    "color":{"field":"t","type":"nominal","scale":{"domain":["b1","b2","r","y"],"range":["#0072BD","#0072BD","#D95319","#EDB120"]},"legend":null},
    "order":{"field":"a","type":"quantitative"}
   }},
  {"data":{"name":"p2m"},
   "mark":{"type":"point","filled":false,"strokeWidth":1.8,"size":50,"opacity":1},
   "encoding":{
    "x":{"field":"v","type":"quantitative","scale":{"domain":[5,15],"nice":false,"zero":false},"axis":{"orient":"top","values":[5,10,15],"labels":false,"title":null}},
    "y":{"field":"a","type":"quantitative","scale":{"domain":[0,350],"nice":false},"axis":{"orient":"right","values":[0,50,100,150,200,250,300,350],"labels":false,"title":null}},
    "stroke":{"field":"s","type":"nominal","scale":{"domain":["F1:09:00","F1:11:00","F3:09:00","F3:11:00"],"range":["#0072BD","#EDB120","#0072BD","#EDB120"]},"legend":null},
    "shape":{"field":"s","type":"nominal","scale":{"domain":["F1:09:00","F1:11:00","F3:09:00","F3:11:00"],"range":["M-1,-1L1,1M-1,1L1,-1","M-1,-1L1,1M-1,1L1,-1","circle","circle"]},"legend":null}
   }}
 ],
 "resolve":{"axis":{"x":"independent","y":"independent"},"scale":{"color":"independent"}}
},
{
 "width":265,"height":436,
 "layer":[
  {"data":{"name":"p3l"},
   "mark":{"type":"line","strokeWidth":1.3},
   "encoding":{
    "x":{"field":"v","type":"quantitative","scale":{"domain":[45,127],"nice":false,"zero":false},"axis":{"orient":"bottom","values":[60,80,100,120],"title":"Wind direction in degree"}},
    "y":{"field":"a","type":"quantitative","scale":{"domain":[0,350],"nice":false},"axis":{"orient":"left","values":[0,50,100,150,200,250,300,350],"title":null}},
    "color":{"field":"t","type":"nominal","scale":{"domain":["b1","b2","r","y"],"range":["#0072BD","#0072BD","#D95319","#EDB120"]},"legend":null},
    "order":{"field":"a","type":"quantitative"}
   }},
  {"data":{"name":"p3l"},
   "transform":[{"filter":"datum.a > 400"}],
   "mark":{"type":"point","opacity":0},
   "encoding":{
    "x":{"field":"v","type":"quantitative","scale":{"domain":[45,127],"nice":false,"zero":false},"axis":{"orient":"top","values":[60,80,100,120],"labels":false,"title":null}},
    "y":{"field":"a","type":"quantitative","scale":{"domain":[0,350],"nice":false},"axis":{"orient":"right","values":[0,50,100,150,200,250,300,350],"labels":false,"title":null}}
   }}
 ],
 "resolve":{"axis":{"x":"independent","y":"independent"}}
}
]
}
